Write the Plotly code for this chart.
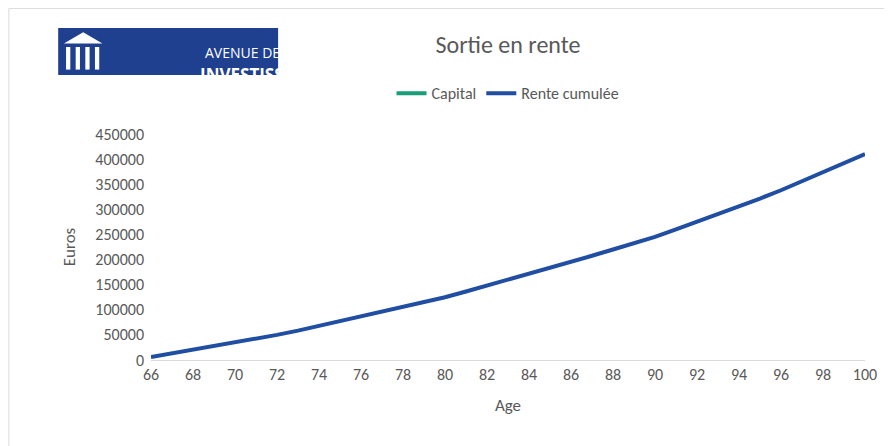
import plotly.graph_objects as go

ages = list(range(66, 101))
rente = [6000, 13000, 20000, 27500, 35000, 42500, 50000, 58500, 68000, 77500,
         87000, 96000, 105000, 115000, 125000, 136500, 148000, 160000, 172000, 183500,
         195000, 207500, 220000, 232500, 245000, 260000, 275000, 290000, 305000, 321500,
         338000, 355500, 373000, 391500, 410000]
capital = [None] * len(ages)
yticks = list(range(0, 450001, 50000))

fig = go.Figure()
fig.add_trace(go.Scatter(x=ages, y=capital, name="Capital", mode="lines",
                         line=dict(color="#1a9e7a", width=4)))
fig.add_trace(go.Scatter(x=ages, y=rente, name="Rente cumulée", mode="lines",
                         line=dict(color="#1f4ea3", width=4)))

# outer border
fig.add_shape(type="rect", xref="paper", yref="paper", x0=-0.199, x1=1.048, y0=-0.413, y1=1.556,
              line=dict(color="#d9d9d9", width=1), fillcolor="rgba(0,0,0,0)", layer="below")
# logo
fig.add_shape(type="rect", xref="paper", yref="paper", x0=-0.130, x1=0.178, y0=1.261, y1=1.469,
              fillcolor="#1f3f8f", line_width=0, layer="below")
fig.add_annotation(xref="paper", yref="paper", x=0.073, y=1.41, text="AVENUE DES", showarrow=False,
                   font=dict(family="Open Sans", size=14, color="white"))
fig.add_annotation(xref="paper", yref="paper", x=0.066, y=1.325, text="<b>INVESTISSEURS</b>", showarrow=False,
                   font=dict(family="Open Sans", size=17, color="white"))
fig.add_shape(type="path", xref="paper", yref="paper",
              path="M -0.122 1.40 L -0.095 1.45 L -0.068 1.40 Z", fillcolor="white", line_width=0)
for i in range(4):
    x0 = -0.119 + i * 0.0135
    fig.add_shape(type="rect", xref="paper", yref="paper", x0=x0, x1=x0 + 0.006, y0=1.285, y1=1.385,
                  fillcolor="white", line_width=0)

fig.update_layout(
    width=892, height=446, paper_bgcolor="white", plot_bgcolor="white",
    margin=dict(l=143, r=35, t=126, b=94),
    font=dict(family="Carlito, Calibri, Liberation Sans, sans-serif", color="#595959", size=16),
    title=dict(text="Sortie en rente", x=0.5, xref="paper", y=0.917, yanchor="middle",
               font=dict(size=24, color="#595959")),
    legend=dict(orientation="h", x=0.5, xanchor="center", y=1.18, yanchor="middle",
                font=dict(size=16, color="#595959")),
    xaxis=dict(title=dict(text="Age", font=dict(size=17)), range=[66, 100], tickvals=list(range(66, 101, 2)),
               showgrid=False, showline=True, linecolor="#d9d9d9", ticks="", zeroline=False),
    yaxis=dict(title=dict(text="Euros", font=dict(size=17)), range=[0, 450000], tickvals=yticks,
               tickformat="d", showgrid=False, zeroline=False, ticks="", ticklabelstandoff=6),
)
fig.write_html("out.html")
